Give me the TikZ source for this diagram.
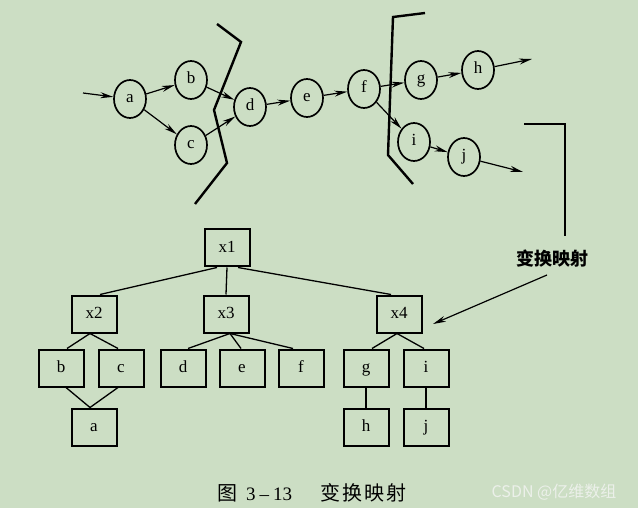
\documentclass[tikz,border=0pt]{standalone}
\usepackage{fontspec}
\setmainfont{Liberation Serif}
\newfontfamily\cjk{Noto Sans CJK SC}
\usetikzlibrary{shapes.geometric,arrows.meta}
\definecolor{bg}{RGB}{204,222,196}
\definecolor{wm}{RGB}{236,240,234}
\tikzset{
  st/.style={ellipse,draw,line width=1.7pt,minimum width=32pt,minimum height=38pt,inner sep=0pt,text height=11pt,text depth=3pt,font=\fontsize{17}{17}\selectfont},
  bx/.style={rectangle,draw,line width=2pt,minimum width=45pt,minimum height=37pt,inner sep=0pt,text height=11pt,text depth=3pt,font=\fontsize{17}{17}\selectfont},
  arr/.style={line width=1.2pt,-{Stealth[length=13pt,width=6pt]}},
  cut/.style={line width=2.4pt,line join=miter},
  tl/.style={line width=1.3pt}
}
\begin{document}
\begin{tikzpicture}[x=1pt,y=-1pt]
\fill[bg] (0,0) rectangle (638,508);
\useasboundingbox (0,0) rectangle (638,508);
% top graph
\node[st] (a) at (130,99) {a};
\node[st] (b) at (191,80) {b};
\node[st] (c) at (191,145) {c};
\node[st] (d) at (250,107) {d};
\node[st] (e) at (307,98) {e};
\node[st] (f) at (364,89) {f};
\node[st] (g) at (421,80) {g};
\node[st] (h) at (478,70) {h};
\node[st] (i) at (414,142) {i};
\node[st] (j) at (464,157) {j};
\coordinate (in) at (83,93);
\coordinate (hout) at (532,59);
\coordinate (jout) at (523,172);
\draw[arr] (in) -- (a);
\draw[arr] (a) -- (b);
\draw[arr] (a) -- (c);
\draw[arr] (b) -- (d);
\draw[arr] (c) -- (d);
\draw[arr] (d) -- (e);
\draw[arr] (e) -- (f);
\draw[arr] (f) -- (g);
\draw[arr] (f) -- (i);
\draw[arr] (g) -- (h);
\draw[arr] (i) -- (j);
\draw[arr] (h) -- (hout);
\draw[arr] (j) -- (jout);
% cut lines
\draw[cut] (217,24) -- (241,42) -- (214,110) -- (227,163) -- (195,204);
\draw[cut] (425,13) -- (393,17) -- (388,155) -- (413,184);
% mapping label
\draw[tl] (524,124) -- (565,124) -- (565,236);
\node[font=\cjk\bfseries\fontsize{18}{18}\selectfont,inner sep=2pt] (lbl) at (552,259) {变换映射};
\coordinate (tip) at (433,324);
\draw[arr] (547,275) -- (tip);
% tree
\node[bx] (x1) at (227,248) {x1};
\node[bx] (x2) at (94,314) {x2};
\node[bx] (x3) at (226,314) {x3};
\node[bx] (x4) at (399,314) {x4};
\node[bx] (tb) at (61,368) {b};
\node[bx] (tc) at (121,368) {c};
\node[bx] (td) at (183,368) {d};
\node[bx] (te) at (242,368) {e};
\node[bx] (tf) at (301,368) {f};
\node[bx] (tg) at (366,368) {g};
\node[bx] (ti) at (426,368) {i};
\node[bx] (ta) at (94,427) {a};
\node[bx] (th) at (366,427) {h};
\node[bx] (tj) at (426,427) {j};
\draw[tl] ([xshift=-10pt]x1.south) -- ([xshift=6pt]x2.north);
\draw[tl] (x1.south) -- (x3.north);
\draw[tl] ([xshift=11pt]x1.south) -- ([xshift=-8pt]x4.north);
\draw[tl] ([xshift=-4pt]x2.south) -- ([xshift=6pt]tb.north);
\draw[tl] ([xshift=-4pt]x2.south) -- ([xshift=-3pt]tc.north);
\draw[tl] ([xshift=5pt]tb.south) -- ([xshift=-4pt]ta.north);
\draw[tl] ([xshift=-3pt]tc.south) -- ([xshift=-4pt]ta.north);
\draw[tl] ([xshift=4pt]x3.south) -- ([xshift=5pt]td.north);
\draw[tl] ([xshift=4pt]x3.south) -- ([xshift=-1pt]te.north);
\draw[tl] ([xshift=4pt]x3.south) -- ([xshift=-8pt]tf.north);
\draw[tl] ([xshift=-2pt]x4.south) -- ([xshift=6pt]tg.north);
\draw[tl] ([xshift=-2pt]x4.south) -- ([xshift=-2pt]ti.north);
\draw[tl] (tg) -- (th);
\draw[tl] (ti) -- (tj);
% caption
\node[font=\fontsize{19}{19}\selectfont,anchor=west,inner sep=0pt] (cap) at (217,493) {{\cjk\fontsize{20}{20}\selectfont 图}\hspace{9pt}3\hspace{4pt}–\hspace{4pt}13\hspace{28pt}{\cjk\fontsize{20}{20}\selectfont 变\hspace{2pt}换\hspace{2pt}映\hspace{2pt}射}};
\node[font=\cjk\fontsize{16}{16}\selectfont,text=wm] (wmk) at (554,492) {CSDN @亿维数组};
\end{tikzpicture}
\end{document}
